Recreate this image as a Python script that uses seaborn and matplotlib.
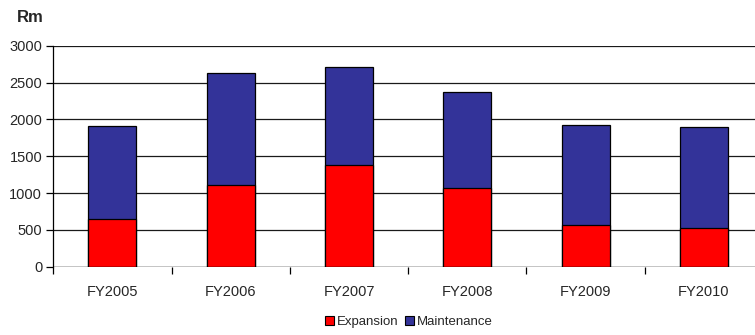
import matplotlib
matplotlib.use("Agg")
import matplotlib.pyplot as plt
from matplotlib.patches import Patch
import numpy as np
import pandas as pd
import seaborn as sns

years = ["FY2005", "FY2006", "FY2007", "FY2008", "FY2009", "FY2010"]
expansion = [643, 1109, 1376, 1068, 570, 529]
maintenance = [1271, 1524, 1331, 1308, 1358, 1367]
y_ticks = [0, 500, 1000, 1500, 2000, 2500, 3000]

RED = "#FF0000"
BLUE = "#333399"

sns.set_theme(style="white")
plt.rcParams["font.family"] = ["Liberation Sans", "DejaVu Sans"]

df = pd.DataFrame({
    "year": years,
    "expansion": expansion,
    "total": np.array(expansion) + np.array(maintenance),
})

fig = plt.figure(figsize=(7.55, 3.35), dpi=100)
ax = fig.add_axes([0.0706, 0.2039, 0.9400, 0.6597])

# stacked bars: full height in blue, expansion drawn over it in red
sns.barplot(data=df, x="year", y="total", color=BLUE, width=0.405,
            edgecolor="black", linewidth=0.9, saturation=1, ax=ax, zorder=3)
sns.barplot(data=df, x="year", y="expansion", color=RED, width=0.405,
            edgecolor="black", linewidth=0.9, saturation=1, ax=ax, zorder=4)

ax.set_xlim(-0.5, len(years) - 0.5)
ax.set_ylim(0, 3000)
ax.set_yticks(y_ticks)
ax.set_xlabel("")
ax.set_ylabel("")

ax.yaxis.grid(True, color="#1a1a1a", linewidth=0.9, zorder=0)
ax.set_axisbelow(True)

for s in ["right", "bottom", "top"]:
    ax.spines[s].set_visible(False)
ax.spines["left"].set_color("black")
ax.spines["left"].set_linewidth(0.9)
ax.axhline(0, color="black", linewidth=0.9, zorder=5)

# category ticks sit between bars
ax.set_xticks(np.arange(len(years)))
ax.set_xticklabels(years)
ax.set_xticks(np.arange(-0.5, len(years)), minor=True)
ax.tick_params(axis="x", which="major", length=0, pad=13, labelsize=10.5)
ax.tick_params(axis="x", which="minor", length=5, width=0.9, color="black",
               direction="out", bottom=True)
ax.tick_params(axis="y", length=5, width=0.9, color="black", direction="out",
               left=True, labelsize=10.5, pad=3)

fig.text(0.022, 0.948, "Rm", fontsize=12, fontweight="bold", ha="left",
         va="center")

handles = [Patch(facecolor=RED, edgecolor="black", linewidth=0.8),
           Patch(facecolor=BLUE, edgecolor="black", linewidth=0.8)]
fig.legend(handles, ["Expansion", "Maintenance"], loc="center",
           bbox_to_anchor=(0.541, 0.038), ncol=2, frameon=False,
           fontsize=9.5, handlelength=0.7, handleheight=0.7,
           handletextpad=0.2, columnspacing=0.5)

fig.savefig("out.png", dpi=100)
